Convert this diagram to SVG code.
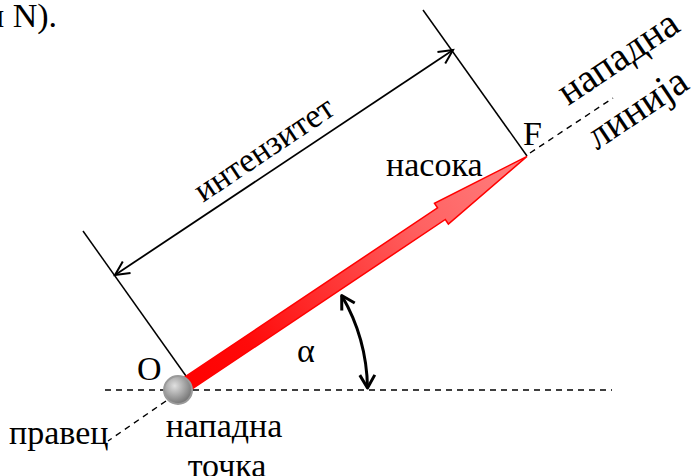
<svg xmlns="http://www.w3.org/2000/svg" width="692" height="476" viewBox="0 0 692 476">
<style>
  text { font-family: "Liberation Serif", serif; fill: #000; }
  .t34 { font-size: 34px; }
  .t40 { font-size: 40px; }
  .thin { stroke: #000; stroke-width: 1.5; fill: none; }
  .dash { stroke: #000; stroke-width: 1.4; fill: none; stroke-dasharray: 6 5; }
</style>
<defs>
  <marker id="openArrow" markerUnits="userSpaceOnUse" viewBox="-16 -9 18 18" markerWidth="18" markerHeight="18" refX="0" refY="0" orient="auto-start-reverse" overflow="visible">
    <path d="M -14 -7 L 0 0 L -14 7" fill="none" stroke="#000" stroke-width="2"/>
  </marker>
  <marker id="arcArrow" markerUnits="userSpaceOnUse" viewBox="-16 -9 18 18" markerWidth="18" markerHeight="18" refX="0" refY="0" orient="auto-start-reverse" overflow="visible">
    <path d="M -13 -7.5 L 0 0 L -13 7.5" fill="none" stroke="#000" stroke-width="3" stroke-linejoin="round"/>
  </marker>
  <linearGradient id="redGrad" gradientUnits="userSpaceOnUse" x1="0" y1="0" x2="420" y2="0">
    <stop offset="0" stop-color="#ff0000"/>
    <stop offset="0.2" stop-color="#ff0a0a"/>
    <stop offset="0.7" stop-color="#ff6262"/>
    <stop offset="1" stop-color="#ff8080"/>
  </linearGradient>
  <radialGradient id="ballGrad" cx="0.38" cy="0.35" r="0.7">
    <stop offset="0" stop-color="#e0e0e0"/>
    <stop offset="1" stop-color="#6e6e6e"/>
  </radialGradient>
</defs>

<text class="t34" x="-14" y="27">н N).</text>

<g id="connectors">
  <line class="dash" x1="105" y1="390" x2="612" y2="390"/>
  <line class="dash" x1="166" y1="401" x2="108" y2="441"/>
  <line class="dash" x1="530" y1="153" x2="613" y2="98"/>
  <line class="thin" x1="83" y1="231" x2="186" y2="376"/>
  <line class="thin" x1="423" y1="10" x2="527" y2="156"/>
  <line stroke="#000" stroke-width="1.8" x1="115" y1="275" x2="453" y2="50" marker-start="url(#openArrow)" marker-end="url(#openArrow)"/>
  <path d="M 341.7 295.5 A 189 189 0 0 1 367.5 388" fill="none" stroke="#000" stroke-width="3" marker-start="url(#arcArrow)" marker-end="url(#arcArrow)"/>
</g>

<g id="force-vector" transform="translate(178,390) rotate(-33.8)">
  <polygon points="0,-7 317,-7 317,-12.5 420,0 317,12.5 317,7 0,7" fill="url(#redGrad)" stroke="#ff0000" stroke-width="1.5" stroke-linejoin="miter"/>
</g>

<g id="point-O">
  <circle cx="178" cy="390" r="14" fill="url(#ballGrad)" stroke="#9a9a9a" stroke-width="2"/>
  <text class="t34" x="137" y="380">O</text>
</g>

<g id="label-F"><text class="t34" x="523" y="145">F</text></g>
<g id="label-alpha"><text class="t34" x="297" y="362">α</text></g>
<g id="label-nasoka"><text class="t34" x="386" y="176">насока</text></g>
<g id="label-intenzitet"><text class="t34" text-anchor="middle" transform="translate(270,158) rotate(-33.8)">интензитет</text></g>
<g id="label-napadna-linija">
  <text class="t40" text-anchor="middle" transform="translate(625,68) rotate(-33.8)">нападна</text>
  <text class="t40" text-anchor="middle" transform="translate(644,119) rotate(-33.8)">линија</text>
</g>
<g id="label-pravec"><text class="t34" x="9" y="444">правец</text></g>
<g id="label-napadna-tocka">
  <text class="t34" text-anchor="middle" x="224" y="437">нападна</text>
  <text class="t34" text-anchor="middle" x="227" y="477">точка</text>
</g>
</svg>
